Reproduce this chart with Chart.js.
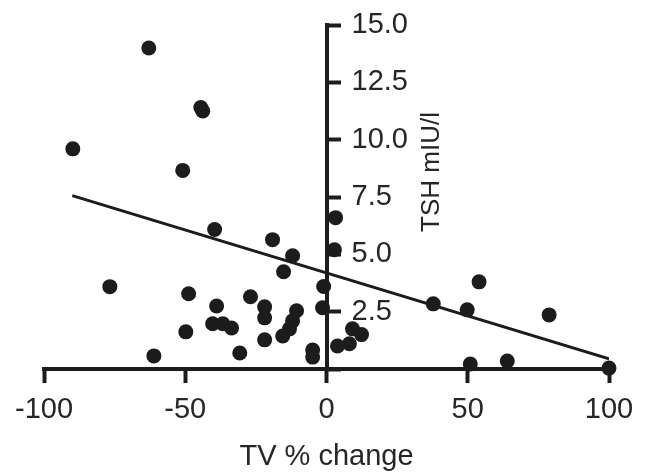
<!DOCTYPE html>
<html>
<head>
<meta charset="utf-8">
<script src="https://cdn.jsdelivr.net/npm/chart.js@4.4.1/dist/chart.umd.min.js"></script>
<style>
    html, body { margin: 0; padding: 0; background: #fff; }
    #chart { display: block; }
</style>
</head>
<body>
<canvas id="chart" width="646" height="474"></canvas>
<script>
// values
const tvChange = [-62.9, -44.5, -43.8, -89.8, -50.9, -39.6, -19.1, -12.0, -15.2, -76.7,
                  -48.8, -38.9, -26.9, -21.9, -21.9, -49.8, -40.3, -36.7, -33.6, -21.9,
                  -30.7, -61.1, -10.6, -12.0, -13.1, -15.5, -4.9, -4.9, -1.0, -1.4,
                  3.2, 2.8, 3.9, 8.1, 9.2, 12.4, 37.8, 49.8, 54.0, 78.8,
                  50.9, 64.0, 100];
const tsh = [14.0, 11.4, 11.25, 9.6, 8.66, 6.08, 5.64, 4.94, 4.24, 3.59,
             3.28, 2.75, 3.15, 2.71, 2.23, 1.62, 1.97, 1.97, 1.79, 1.27,
             0.70, 0.57, 2.54, 2.10, 1.75, 1.44, 0.83, 0.52, 3.6, 2.67,
             6.6, 5.2, 1.0, 1.1, 1.75, 1.5, 2.84, 2.58, 3.8, 2.36,
             0.22, 0.35, 0.04];
const fitX = [-90, 100];
const fitY = [7.56, 0.44];
const xTicks = [-100, -50, 0, 50, 100];
const yTicks = [2.5, 5.0, 7.5, 10.0, 12.5, 15.0];

const ink = '#1c1c1c';
const textInk = '#262626';
const fontFamily = '"Liberation Sans", Arial, sans-serif';

// y axis sits at x = 0, its labels and title go on the right side
const rightLabels = {
    id: 'rightLabels',
    afterDraw(chart) {
        const ctx = chart.ctx;
        const xs = chart.scales.x;
        const ys = chart.scales.y;
        const axisX = xs.getPixelForValue(0);
        ctx.save();
        ctx.fillStyle = textInk;
        ctx.font = '29px ' + fontFamily;
        ctx.textAlign = 'left';
        ctx.textBaseline = 'middle';
        yTicks.forEach(v => {
            ctx.fillText(v.toFixed(1), axisX + 25, ys.getPixelForValue(v));
        });
        ctx.font = '26px ' + fontFamily;
        ctx.translate(axisX + 105, (chart.chartArea.top + chart.chartArea.bottom) / 2 - 25);
        ctx.rotate(-Math.PI / 2);
        ctx.textAlign = 'center';
        ctx.fillText('TSH mIU/l', 0, 0);
        ctx.restore();
    }
};

new Chart(document.getElementById('chart'), {
    type: 'scatter',
    data: {
        datasets: [{
            data: tvChange.map((x, i) => ({ x: x, y: tsh[i] })),
            backgroundColor: ink,
            borderColor: ink,
            borderWidth: 0,
            pointRadius: 7.5,
            pointHoverRadius: 7.5,
            clip: false
        }, {
            type: 'line',
            data: fitX.map((x, i) => ({ x: x, y: fitY[i] })),
            borderColor: ink,
            borderWidth: 3,
            pointRadius: 0,
            fill: false
        }]
    },
    options: {
        responsive: false,
        animation: false,
        devicePixelRatio: 1,
        layout: { padding: { left: 44, right: 37, top: 25, bottom: 0 } },
        plugins: { legend: { display: false }, tooltip: { enabled: false } },
        scales: {
            x: {
                type: 'linear',
                position: 'bottom',
                min: -100,
                max: 100,
                afterBuildTicks: s => { s.ticks = xTicks.map(v => ({ value: v })); },
                afterFit: s => { s.height = 105; },
                border: { display: true, color: ink, width: 4 },
                grid: { drawOnChartArea: false, drawTicks: true, tickLength: 14, tickWidth: 4, tickColor: ink },
                ticks: { color: textInk, font: { family: fontFamily, size: 29 }, padding: 10, maxRotation: 0 },
                title: { display: true, text: 'TV % change', color: textInk, font: { family: fontFamily, size: 29 }, padding: { top: 0, bottom: 0 } }
            },
            y: {
                type: 'linear',
                position: { x: 0 },
                min: 0,
                max: 15,
                afterBuildTicks: s => { s.ticks = [0].concat(yTicks).map(v => ({ value: v })); },
                border: { display: true, color: ink, width: 4 },
                grid: { drawOnChartArea: false, drawTicks: true, tickLength: -16, tickWidth: 4, tickColor: ink },
                ticks: { display: false }
            }
        }
    },
    plugins: [rightLabels]
});
</script>
</body>
</html>
